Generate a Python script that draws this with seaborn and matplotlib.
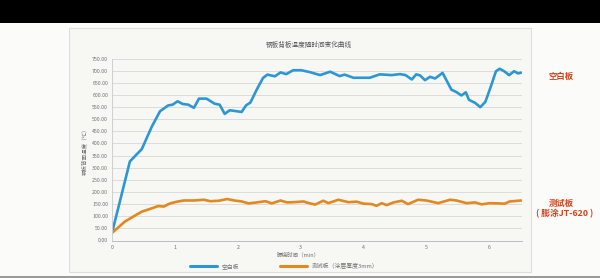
import matplotlib
matplotlib.use("Agg")
import matplotlib.pyplot as plt
import seaborn as sns
import pandas as pd
from matplotlib.patches import Rectangle
from matplotlib.lines import Line2D

# ---- data ----
time_blank = [0, 0.28, 0.47, 0.63, 0.76, 0.89, 0.96, 1.04, 1.12, 1.21, 1.30, 1.38, 1.50, 1.63,
              1.71, 1.79, 1.87, 1.98, 2.06, 2.13, 2.20, 2.30, 2.40, 2.47, 2.59, 2.68, 2.77, 2.88,
              3.01, 3.15, 3.31, 3.47, 3.62, 3.70, 3.84, 4.10, 4.26, 4.45, 4.58, 4.67, 4.77, 4.84,
              4.90, 4.98, 5.06, 5.14, 5.26, 5.40, 5.48, 5.56, 5.63, 5.68, 5.78, 5.86, 5.94, 6.03,
              6.11, 6.17, 6.24, 6.32, 6.40, 6.46, 6.51]
temp_blank = [36, 326, 377, 470, 533, 557, 560, 574, 563, 560, 547, 585, 585, 564,
              560, 522, 537, 533, 530, 557, 569, 622, 670, 684, 677, 693, 686, 702,
              702, 694, 682, 696, 678, 684, 671, 671, 685, 682, 686, 682, 664, 685,
              681, 661, 675, 668, 691, 622, 612, 598, 611, 580, 567, 550, 571, 636,
              698, 708, 698, 682, 698, 689, 692]

time_test = [0, 0.20, 0.33, 0.47, 0.60, 0.73, 0.82, 0.92, 1.03, 1.14, 1.30, 1.46, 1.56, 1.70,
             1.83, 1.94, 2.06, 2.17, 2.30, 2.44, 2.54, 2.68, 2.78, 2.89, 3.05, 3.09, 3.23,
             3.36, 3.44, 3.60, 3.76, 3.89, 4.00, 4.13, 4.21, 4.29, 4.37, 4.48, 4.61, 4.71,
             4.87, 5.00, 5.19, 5.38, 5.48, 5.64, 5.78, 5.88, 6.01, 6.25, 6.33, 6.51]
temp_test = [32, 78, 98, 119, 130, 142, 140, 153, 160, 165, 165, 168, 162, 164,
             171, 165, 161, 153, 157, 162, 153, 165, 157, 158, 161, 157, 148,
             164, 154, 168, 158, 160, 152, 150, 143, 154, 146, 157, 164, 150,
             168, 165, 154, 168, 165, 154, 157, 149, 154, 152, 161, 165]

x_ticks = [0, 1, 2, 3, 4, 5, 6]
y_ticks = list(range(0, 751, 50))

series_blank = "空白板"
series_test = "测试板（涂层厚度3mm）"
title = "钢板背板温度随时间变化曲线"
xlabel = "曝烧时间（min）"
ylabel = "钢板背面温度（℃）"

df = pd.concat([
    pd.DataFrame({"t": time_blank, "v": temp_blank, "s": series_blank}),
    pd.DataFrame({"t": time_test, "v": temp_test, "s": series_test}),
], ignore_index=True)

sns.set_theme(style="white")
plt.rcParams["font.family"] = ["Noto Sans CJK SC", "DejaVu Sans"]

BLUE = "#2b98d5"
ORANGE = "#e3871f"
GRID = "#dcdcda"
TXT = "#707070"

fig = plt.figure(figsize=(6, 2.78), dpi=100)
fig.patch.set_facecolor("#fbfbf9")

# top black band, bottom gray line
fig.add_artist(Rectangle((0, 1 - 23 / 278), 1, 23 / 278, transform=fig.transFigure,
                         facecolor="black", edgecolor="none", zorder=0))
fig.add_artist(Rectangle((0, 0), 1, 2 / 278, transform=fig.transFigure,
                         facecolor="#9a9a9a", edgecolor="none", zorder=0))
# chart panel
fig.add_artist(Rectangle((68.5 / 600, 1 - 271.5 / 278), (531 - 68.5) / 600, (271.5 - 27.5) / 278,
                         transform=fig.transFigure, facecolor="#f7f8f4",
                         edgecolor="#dedede", linewidth=0.8, zorder=0))

ax = fig.add_axes([112.3 / 600, 37.5 / 278, (521.7 - 112.3) / 600, (240.5 - 58.6) / 278])
ax.set_facecolor("none")

sns.lineplot(data=df, x="t", y="v", hue="s", palette={series_blank: BLUE, series_test: ORANGE},
             linewidth=1.9, ax=ax, legend=False, sort=False)

ax.set_xlim(0, 6.52)
ax.set_ylim(0, 750)
ax.set_xticks(x_ticks)
ax.set_xticklabels([str(v) for v in x_ticks])
ax.set_yticks(y_ticks)
ax.set_yticklabels([f"{v:.2f}" for v in y_ticks])
ax.tick_params(axis="both", labelsize=3.8, colors=TXT, length=0, pad=3)
ax.yaxis.grid(True, color=GRID, linewidth=0.7)
ax.xaxis.grid(False)
for s in ["top", "right"]:
    ax.spines[s].set_visible(False)
ax.spines["left"].set_color("#cfcfcf")
ax.spines["left"].set_linewidth(0.7)
ax.spines["bottom"].set_color("#bdbdbd")
ax.spines["bottom"].set_linewidth(0.7)
ax.set_xlabel("")
ax.set_ylabel("")

fig.text(308.5 / 600, 1 - 45 / 278, title, ha="center", va="center", fontsize=4.8, color="#555555")
fig.text(298 / 600, 1 - 255 / 278, xlabel, ha="center", va="center", fontsize=4, color=TXT)
fig.text(84 / 600, 1 - 150 / 278, ylabel, ha="center", va="center", fontsize=4, color=TXT,
         rotation=90)

handles = [Line2D([], [], color=BLUE, linewidth=2.2), Line2D([], [], color=ORANGE, linewidth=2.2)]
fig.legend(handles, [series_blank, series_test], loc="center", bbox_to_anchor=(284 / 600, 1 - 266 / 278),
           ncol=2, frameon=False, fontsize=4.2, handlelength=4.6, columnspacing=7, handletextpad=0.8,
           labelcolor=TXT)

RED = "#d0421b"
fig.text(561 / 600, 1 - 76 / 278, "空白板", ha="center", va="center", fontsize=6,
         color=RED, fontweight="bold")
fig.text(561 / 600, 1 - 203 / 278, "测试板", ha="center", va="center", fontsize=6,
         color=RED, fontweight="bold")
fig.text(565 / 600, 1 - 214 / 278, "( 膨涂JT-620 )", ha="center", va="center", fontsize=6.3,
         color=RED, fontweight="bold")

fig.savefig("out.png", dpi=100, facecolor=fig.get_facecolor())
